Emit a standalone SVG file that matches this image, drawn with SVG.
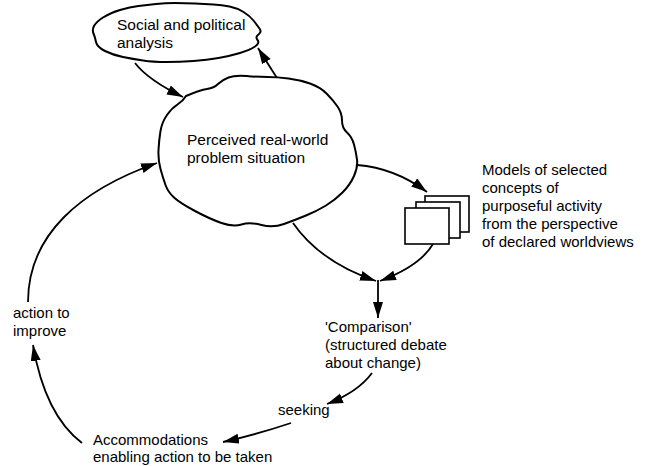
<svg xmlns="http://www.w3.org/2000/svg" width="650" height="466" viewBox="0 0 650 466">
<style>
.blob{fill:#fff;stroke:#000;stroke-width:2;stroke-linejoin:round}
.box{fill:#fff;stroke:#000;stroke-width:1.6}
.con{fill:none;stroke:#000;stroke-width:1.8;marker-end:url(#ah)}
.t{font-family:"Liberation Sans",Arial,sans-serif;font-size:15px;fill:#000}
.b{font-size:15.5px}
</style>
<defs>
<marker id="ah" markerUnits="userSpaceOnUse" markerWidth="17" markerHeight="11" refX="16" refY="5" orient="auto">
<path d="M0,0 L16,5 L0,10 Z" fill="#000"/>
</marker>
</defs>
<rect width="650" height="466" fill="#fff"/>
<g id="connectors">
<path class="con" d="M135 63 Q148 80 183 97"/>
<path class="con" d="M277 78 Q268 64 258 48"/>
<path class="con" d="M357 165 Q395 168 427 192"/>
<path class="con" d="M293 223 Q320 262 376 281"/>
<path class="con" d="M433 244 Q420 266 380 281"/>
<path class="con" d="M378 280 L378 318"/>
<path class="con" d="M372 373 Q358 392 327 404"/>
<path class="con" d="M291 423 Q255 435 223 442"/>
<path class="con" d="M82 443 Q45 415 33 345"/>
<path class="con" d="M28 302 C28 235 80 190 157 163"/>
</g>
<g id="social">
<path class="blob" d="M93.5 33.5 Q92 30 94 26 Q96 22 103 17.5 Q110 13 120 10 Q130 7 138.5 6 Q147 5 156 4 Q165 3 175 3 Q185 3 195 3.5 Q205 4 213.5 4.5 Q222 5 229.5 6.5 Q237 8 243.5 12 Q250 16 253.5 20.5 Q257 25 259.5 28.5 Q262 32 258.5 34.5 Q255 37 257.5 40 Q260 43 255 46.5 Q250 50 240 53 Q230 56 218.5 58 Q207 60 193.5 61 Q180 62 166.5 62 Q153 62 143 60.5 Q133 59 123 57 Q113 55 105 51 Q97 47 96 42 Q95 37 93.5 33.5 Z"/>
<text class="t b" x="117" y="30">Social and political</text>
<text class="t b" x="117" y="48">analysis</text>
</g>
<g id="problem">
<path class="blob" d="M186 96 Q200 90 207 89 Q214 88 218 84 Q222 80 228.5 77.5 Q235 75 246.5 76 Q258 77 267.5 77 Q277 77 288.5 78.5 Q300 80 310 83.5 Q320 87 326.5 93.5 Q333 100 337.5 106.5 Q342 113 342 120.5 Q342 128 347 132.5 Q352 137 354 144.5 Q356 152 357 159.5 Q358 167 354 176 Q350 185 342.5 192.5 Q335 200 326 205.5 Q317 211 306 215.5 Q295 220 284 224 Q273 228 261.5 225 Q250 222 241.5 224.5 Q233 227 221.5 223 Q210 219 195 211 Q180 203 174 197.5 Q168 192 165.5 185 Q163 178 160.5 169 Q158 160 158.5 150 Q159 140 160.5 131 Q162 122 167 115 Q172 108 177.5 104.5 Q183 101 186 96 Z"/>
<text class="t b" x="187" y="145">Perceived real-world</text>
<text class="t b" x="187" y="163">problem situation</text>
</g>
<g id="models">
<rect class="box" x="425" y="196" width="44" height="36"/>
<rect class="box" x="416" y="202" width="44" height="36"/>
<rect class="box" x="405" y="208" width="44" height="36"/>
<text class="t" x="482" y="175">Models of selected</text>
<text class="t" x="482" y="193">concepts of</text>
<text class="t" x="482" y="211">purposeful activity</text>
<text class="t" x="482" y="229">from the perspective</text>
<text class="t" x="482" y="247">of declared worldviews</text>
</g>
<g id="comparison">
<text class="t" x="325" y="332">'Comparison'</text>
<text class="t" x="325" y="350">(structured debate</text>
<text class="t" x="325" y="368">about change)</text>
</g>
<g id="seeking">
<text class="t" x="278" y="415">seeking</text>
</g>
<g id="accommodations">
<text class="t" x="93" y="445">Accommodations</text>
<text class="t" x="93" y="462">enabling action to be taken</text>
</g>
<g id="action">
<text class="t" x="13" y="318">action to</text>
<text class="t" x="13" y="336">improve</text>
</g>
</svg>
